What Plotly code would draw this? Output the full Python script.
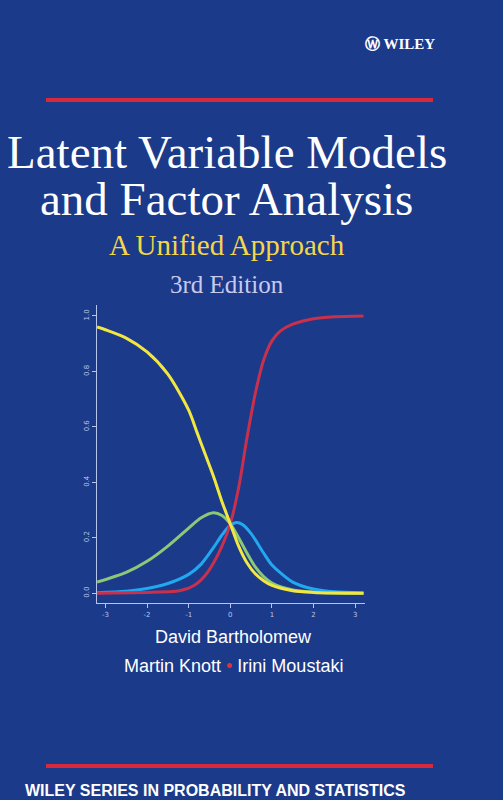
import plotly.graph_objects as go

BG = "#1b3a8a"

red_x = [-3.2, -2, -1.4, -1.2, -1, -0.8, -0.6, -0.4, -0.2, 0, 0.2, 0.4, 0.6, 0.8, 1.0, 1.2, 1.5, 2, 2.5, 3.2]
red_y = [0, 0.003, 0.006, 0.01, 0.018, 0.035, 0.065, 0.11, 0.17, 0.25, 0.38, 0.56, 0.72, 0.84, 0.91, 0.945, 0.97, 0.99, 0.997, 1.0]

yellow_x = [-3.2, -3, -2.5, -2, -1.5, -1, -0.8, -0.6, -0.4, -0.2, 0, 0.2, 0.4, 0.6, 0.8, 1, 1.5, 2, 2.5, 3.2]
yellow_y = [0.96, 0.95, 0.92, 0.87, 0.79, 0.66, 0.58, 0.5, 0.42, 0.33, 0.25, 0.17, 0.11, 0.07, 0.045, 0.028, 0.009, 0.003, 0.001, 0]

green_x = [-3.2, -2.5, -2, -1.5, -1, -0.7, -0.4, -0.2, 0, 0.2, 0.4, 0.6, 0.8, 1, 1.5, 2, 2.5, 3.2]
green_y = [0.04, 0.075, 0.115, 0.17, 0.235, 0.272, 0.29, 0.28, 0.25, 0.2, 0.145, 0.095, 0.06, 0.037, 0.012, 0.004, 0.001, 0]

blue_x = [-3.2, -2.5, -2, -1.5, -1, -0.7, -0.4, -0.2, 0, 0.15, 0.3, 0.5, 0.8, 1, 1.5, 2, 2.5, 3.2]
blue_y = [0.002, 0.007, 0.017, 0.035, 0.068, 0.105, 0.165, 0.21, 0.245, 0.255, 0.247, 0.215, 0.145, 0.102, 0.04, 0.015, 0.005, 0.001]

x_ticks = [-3, -2, -1, 0, 1, 2, 3]
y_ticks = [0.0, 0.2, 0.4, 0.6, 0.8, 1.0]

fig = go.Figure()
for xs, ys, color in [
    (green_x, green_y, "#8cc878"),
    (blue_x, blue_y, "#22a8ee"),
    (red_x, red_y, "#c8304c"),
    (yellow_x, yellow_y, "#f2e640"),
]:
    fig.add_trace(go.Scatter(x=xs, y=ys, mode="lines",
                             line=dict(color=color, width=3, shape="spline", smoothing=0.8),
                             showlegend=False, hoverinfo="skip"))

axis_col = "#b8c4ec"
fig.update_xaxes(domain=[0.193, 0.726], range=[-3.2, 3.24], tickvals=x_ticks,
                 ticktext=[str(v) for v in x_ticks], showgrid=False, zeroline=False,
                 showline=True, linecolor=axis_col, ticks="outside", tickcolor=axis_col,
                 ticklen=4, tickfont=dict(size=7, color=axis_col, family="DejaVu Sans"))
fig.update_yaxes(domain=[0.246, 0.619], range=[-0.036, 1.04], tickvals=y_ticks,
                 ticktext=[f"{v:.1f}" for v in y_ticks], showgrid=False, zeroline=False,
                 showline=True, linecolor=axis_col, ticks="outside", tickcolor=axis_col,
                 ticklen=4, tickangle=-90,
                 tickfont=dict(size=7, color=axis_col, family="DejaVu Sans"))

def py(px):
    return 1 - px / 800

shapes = []
for yy in [100, 766]:
    shapes.append(dict(type="line", xref="paper", yref="paper", x0=46 / 503, x1=433 / 503,
                       y0=py(yy), y1=py(yy), line=dict(color="#d8283c", width=4)))

serif = "Liberation Serif"
sans = "Liberation Sans"
ann = [
    dict(text="Latent Variable Models", x=0.451, y=py(152), size=47, color="white", font=serif),
    dict(text="and Factor Analysis", x=0.451, y=py(199), size=47, color="white", font=serif),
    dict(text="A Unified Approach", x=0.451, y=py(245), size=29, color="#f5d648", font=serif),
    dict(text="3rd Edition", x=0.451, y=py(285), size=25, color="#c9c9ee", font=serif),
    dict(text="David Bartholomew", x=0.465, y=py(637), size=18, color="white", font=sans),
    dict(text="Martin Knott <span style='color:#e0303c'>•</span> Irini Moustaki", x=0.465,
         y=py(666), size=18, color="white", font=sans),
    dict(text="<b>WILEY SERIES IN PROBABILITY AND STATISTICS</b>", x=0.428, y=py(790), size=16,
         color="white", font=sans),
    dict(text="<b>Ⓦ WILEY</b>", x=0.795, y=py(44), size=15, color="white", font=serif),
]
annotations = [dict(text=a["text"], x=a["x"], y=a["y"], xref="paper", yref="paper",
                    showarrow=False, xanchor="center", yanchor="middle",
                    font=dict(size=a["size"], color=a["color"], family=a["font"])) for a in ann]

fig.update_layout(width=503, height=800, margin=dict(l=0, r=0, t=0, b=0),
                  paper_bgcolor=BG, plot_bgcolor=BG, shapes=shapes, annotations=annotations)

fig.write_html("out.html", config={"displayModeBar": False},
               post_script="document.body.style.margin='0';")
